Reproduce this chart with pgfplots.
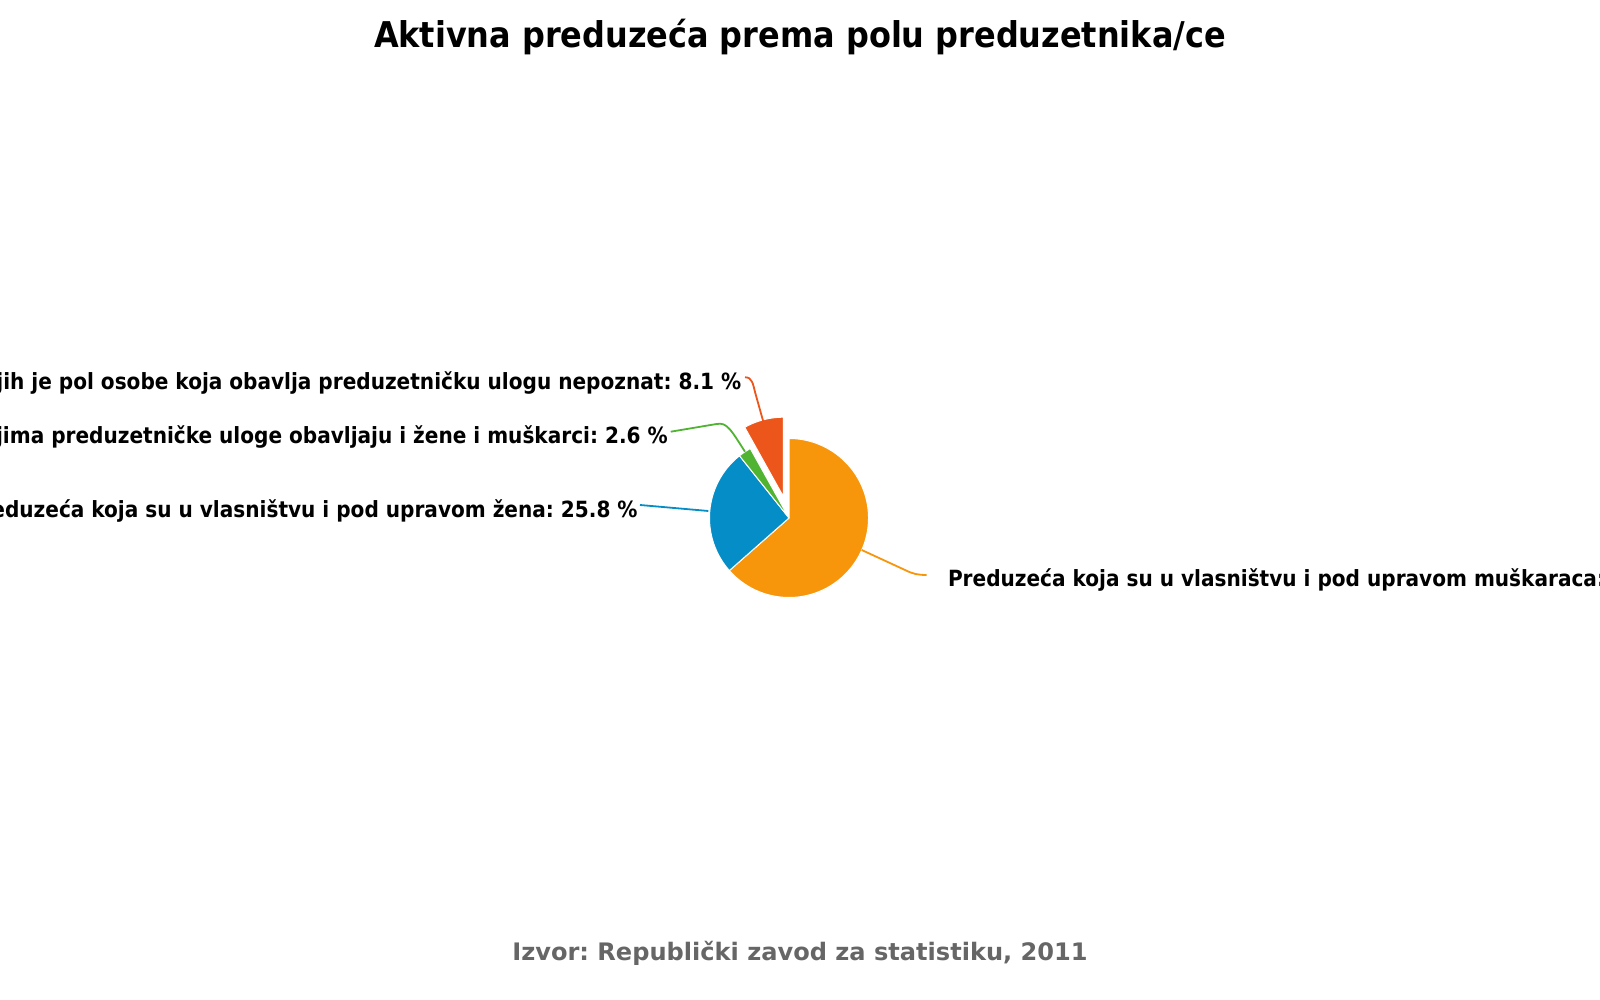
\documentclass[border=0pt]{standalone}
\usepackage{pgfplots}
\pgfplotsset{compat=1.18}
\usepackage{fontspec}
\setmainfont{DejaVu Sans Condensed}
\newfontfamily\srcfont{DejaVu Sans}
\frenchspacing
\definecolor{cOrange}{HTML}{F7950B}
\definecolor{cBlue}{HTML}{058DC7}
\definecolor{cGreen}{HTML}{50B432}
\definecolor{cRed}{HTML}{ED561B}
\definecolor{cSrc}{HTML}{666666}
% shares in percent (clockwise from 12 o'clock)
\def\vOrange{63.5}
\def\vBlue{25.8}
\def\vGreen{2.6}
\def\vRed{8.1}
\def\cx{789}\def\cy{518}\def\R{79.5}
\begin{document}%
\begin{tikzpicture}
\pgfmathsetmacro{\aA}{\vOrange*3.6}
\pgfmathsetmacro{\aB}{\aA+\vBlue*3.6}
\pgfmathsetmacro{\aC}{\aB+\vGreen*3.6}
\pgfmathsetmacro{\aM}{(\aC+360)/2}
\pgfmathsetmacro{\rx}{\cx+22*sin(\aM)}
\pgfmathsetmacro{\ry}{\cy-22*cos(\aM)}
\clip (0,0) rectangle (160mm,100mm);
\begin{pgfinterruptboundingbox}
\begin{axis}[at={(0,0)}, anchor=south west, scale only axis,
  width=160mm, height=100mm, xmin=0, xmax=1600, ymin=0, ymax=1000,
  y dir=reverse, hide axis, clip=false]
\addplot[fill=cOrange, draw=white, line width=0.1mm, domain=0:\aA, samples=150, variable=\t]
  ({\cx+\R*sin(\t)},{\cy-\R*cos(\t)}) -- (axis cs:\cx,\cy) -- cycle;
\addplot[fill=cBlue, draw=white, line width=0.1mm, domain=\aA:\aB, samples=80, variable=\t]
  ({\cx+\R*sin(\t)},{\cy-\R*cos(\t)}) -- (axis cs:\cx,\cy) -- cycle;
\addplot[fill=cGreen, draw=white, line width=0.1mm, domain=\aB:\aC, samples=20, variable=\t]
  ({\cx+\R*sin(\t)},{\cy-\R*cos(\t)}) -- (axis cs:\cx,\cy) -- cycle;
\addplot[fill=cRed, draw=white, line width=0.1mm, domain=\aC:360, samples=40, variable=\t]
  ({\rx+\R*sin(\t)},{\ry-\R*cos(\t)}) -- (axis cs:\rx,\ry) -- cycle;
% connectors
\draw[cRed, line width=0.18mm] (axis cs:745,377.3) .. controls (axis cs:752,377) and (axis cs:753,384) .. (axis cs:755,392) -- (axis cs:763.3,421.7);
\draw[cGreen, line width=0.18mm] (axis cs:670.7,431.7) -- (axis cs:716.7,424) .. controls (axis cs:727,422) and (axis cs:731,430) .. (axis cs:745,451.7);
\draw[cBlue, line width=0.18mm] (axis cs:640,505) -- (axis cs:708.3,511);
\draw[cOrange, line width=0.18mm] (axis cs:861.7,550) -- (axis cs:905,570) .. controls (axis cs:913,574) and (axis cs:918,575) .. (axis cs:926.7,575);
% labels
\tikzset{lbl/.style={inner sep=0pt, font=\bfseries\fontsize{6.35}{7.5}\selectfont}}
\node[lbl, anchor=base east] at (axis cs:742,390) {Preduzeća kod kojih je pol osobe koja obavlja preduzetničku ulogu nepoznat: 8.1 \%};
\node[lbl, anchor=base east] at (axis cs:668.5,443.3) {Preduzeća u kojima preduzetničke uloge obavljaju i žene i muškarci: 2.6 \%};
\node[lbl, anchor=base east] at (axis cs:638.3,517.3) {Preduzeća koja su u vlasništvu i pod upravom žena: 25.8 \%};
\node[lbl, anchor=base west] at (axis cs:947.3,586.7) {Preduzeća koja su u vlasništvu i pod upravom muškaraca: 63.5 \%};
% title and source
\node[inner sep=0pt, anchor=base, font=\bfseries\fontsize{10.1}{12}\selectfont] at (axis cs:800,48) {Aktivna preduzeća prema polu preduzetnika/ce};
\node[inner sep=0pt, anchor=base, text=cSrc, font=\srcfont\bfseries\fontsize{6.85}{8}\selectfont] at (axis cs:800,960) {Izvor: Republički zavod za statistiku, 2011};
\end{axis}
\end{pgfinterruptboundingbox}
\path[use as bounding box] (0,0) rectangle (160mm,100mm);
\end{tikzpicture}%
\end{document}
